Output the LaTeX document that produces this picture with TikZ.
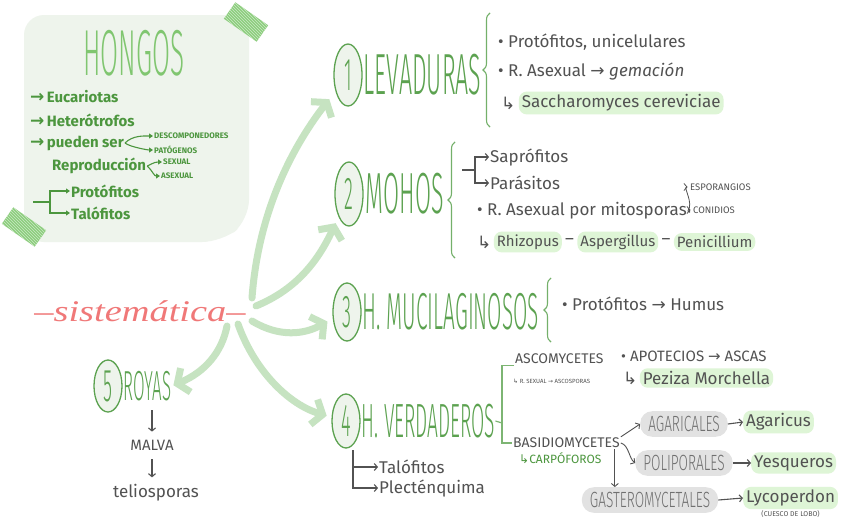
\documentclass[tikz,border=0pt]{standalone}
\usepackage{fontspec}
\setmainfont{Fira Sans}
\newfontfamily\thinfont[FakeStretch=0.4]{Fira Sans Light}
\newfontfamily\pillfont[FakeStretch=0.62]{Fira Sans Light}
\newfontfamily\sistfont[FakeStretch=1.28]{Liberation Serif}
\newfontfamily\flechafont{DejaVu Sans}
\usetikzlibrary{arrows.meta,positioning,shapes.geometric,decorations.pathreplacing,patterns,calc}
\definecolor{boxgreen}{RGB}{238,244,236}
\definecolor{tapegreen}{RGB}{140,205,125}
\definecolor{hongogreen}{RGB}{128,198,112}
\definecolor{titlegreen}{RGB}{92,162,80}
\definecolor{textgreen}{RGB}{76,150,62}
\definecolor{arrowgreen}{RGB}{198,227,193}
\definecolor{inkgray}{RGB}{82,82,82}
\definecolor{hlgreen}{RGB}{222,245,214}
\definecolor{pillgray}{RGB}{226,226,226}
\definecolor{pilltext}{RGB}{112,112,112}
\definecolor{pinkred}{RGB}{240,120,120}
\newcommand\flecha{{\flechafont→}}
\newcommand\gancho{{\flechafont↳}}

\begin{document}
\begin{tikzpicture}[x=1pt,y=-1pt,every node/.style={inner sep=1pt},
  titl/.style={font=\thinfont\fontsize{#1}{#1}\selectfont,text=titlegreen,inner sep=0pt},
  numc/.style={ellipse,draw=titlegreen,line width=1.3pt,fill=boxgreen,minimum width=28,
    minimum height=58,inner sep=0pt,font=\thinfont\fontsize{46}{46}\selectfont,text=titlegreen},
  ink/.style={font=\fontsize{#1}{#1}\selectfont,text=inkgray,anchor=west},
  ink/.default=17,
  gtxt/.style={font=\bfseries\fontsize{#1}{#1}\selectfont,text=textgreen,anchor=west},
  gtxt/.default=15,
  hl/.style={fill=hlgreen,rounded corners=8pt,inner xsep=3pt,inner ysep=3pt},
  pill/.style={fill=pillgray,rounded corners=12pt,inner xsep=8pt,inner ysep=5pt,
    font=\pillfont\fontsize{22}{22}\selectfont,text=pilltext},
  tape/.style={fill=tapegreen,minimum width=40,minimum height=20,inner sep=0pt,
    postaction={pattern=north west lines,pattern color=white!55!tapegreen}},
  rama/.style={draw=arrowgreen,line width=7pt,line cap=round,
    -{Straight Barb[length=9pt,width=26pt]}},
  tip/.style={draw=inkgray,line width=1.1pt,-{Straight Barb[length=3pt,width=7pt]}},
  gtip/.style={draw=textgreen,line width=1.1pt,-{Triangle[length=4pt,width=5pt]}},
  gline/.style={draw=titlegreen!80,line width=1.2pt},
  llave/.style={draw=titlegreen!85,line width=1.1pt,decorate,decoration={brace,amplitude=7pt}}]
\fill[white] (0,0) rectangle (848,530);
\useasboundingbox (0,0) rectangle (848,530);

% caja HONGOS
\fill[boxgreen,rounded corners=20pt] (24,15) -- (249,15) -- (249,220) -- (222,242) -- (24,242) -- cycle;
\node[tape,rotate=-35] (tape1) at (246,22) {};
\node[tape,rotate=-35] (tape2) at (24,227) {};
\node[font=\thinfont\fontsize{65}{65}\selectfont,text=hongogreen,inner sep=0pt] (hongos) at (134,53) {HONGOS};
\foreach \k/\y/\txt in {eu/97/Eucariotas,he/120/Heterótrofos,pu/143/pueden ser}{
  \node[gtxt] (\k) at (29,\y) {{\flechafont\bfseries\fontsize{17}{17}\selectfont→}\,\txt};
}
\node[gtxt] (rep) at (51,166) {Reproducción};
\node[gtxt=8] (desc) at (153,136) {DESCOMPONEDORES};
\node[gtxt=8] (pat) at (153,150) {PATÓGENOS};
\node[gtxt=8] (sex) at (162,162) {SEXUAL};
\node[gtxt=8] (asex) at (160,176) {ASEXUAL};
\draw[gtip] (pu.east) .. controls +(8,-8) and +(-8,0) .. (desc.west);
\draw[gtip] (pu.east) .. controls +(5,4) and +(-5,0) .. (pat.west);
\draw[gtip] (rep.east) .. controls +(8,-4) and +(-6,0) .. (sex.west);
\draw[gtip] (rep.east) .. controls +(6,6) and +(-6,0) .. (asex.west);
\node[gtxt] (pro) at (70,191) {Protófitos};
\node[gtxt] (tal) at (70,213) {Talófitos};
\coordinate (br0) at (33,202);
\draw[gtip] (br0) -- (50,202) coordinate (br1) |- (pro.west);
\draw[gtip] (br1) |- (tal.west);

% sistematica
\node[font=\sistfont\itshape\fontsize{30}{30}\selectfont,text=pinkred] (sist) at (140,311)
  {–sistemática–};
\coordinate (h1) at (252,298);
\coordinate (h2) at (256,306);
\coordinate (h3) at (252,321);
\coordinate (h4) at (238,324);
\coordinate (h5) at (227,326);

% 1 levaduras
\node[numc,minimum height=62] (c1) at (348,75) {1};
\node[titl=58,right=1pt of c1] (lev) {LEVADURAS};
\draw[llave] (490,127) -- (490,13);
\node[ink] (p1) at (497,42) {\textbullet\ Protófitos, unicelulares};
\node[ink] (p2) at (497,72) {\textbullet\ R. Asexual \flecha\ \textit{gemación}};
\node[ink] (g1) at (500,103) {\gancho};
\node[ink,hl,right=2pt of g1] (sacc) {Saccharomyces cereviciae};

% 2 mohos
\node[numc,minimum height=64] (c2) at (349,194) {2};
\node[titl=58,right=2pt of c2] (mohos) {MOHOS};
\draw[llave] (455,258) -- (455,142);
\node[ink] (sap) at (489,157) {Saprófitos};
\node[ink] (par) at (489,183) {Parásitos};
\coordinate (m0) at (462,170);
\draw[tip] (m0) -- (475,170) coordinate (m1) |- (sap.west);
\draw[tip] (m1) |- (par.west);
\node[ink] (mit) at (476,211) {\textbullet\ R. Asexual por mitosporas};
\node[ink=9.5] (espo) at (689,187) {ESPORANGIOS};
\node[ink=9.5] (coni) at (692,210) {CONIDIOS};
\draw[tip,line width=0.8pt,shorten >=1.5pt] (mit.east) .. controls +(6,-8) and +(-6,0) .. (espo.west);
\draw[tip,line width=0.8pt,shorten >=1.5pt] (mit.east) .. controls +(4,3) and +(-4,0) .. (coni.west);
\node[ink] (g2) at (476,242) {\gancho};
\node[ink=15,hl,right=1pt of g2] (rhi) {Rhizopus};
\node[ink,right=2pt of rhi] (d1) {–};
\node[ink=15,hl,right=2pt of d1] (asp) {Aspergillus};
\node[ink,right=2pt of asp] (d2) {–};
\node[ink=15,hl,right=2pt of d2] (pen) {Penicillium};

% 3 mucilaginosos
\node[numc] (c3) at (347,312) {3};
\node[titl=52,right=1pt of c3] (muci) {H. MUCILAGINOSOS};
\draw[llave] (551,342) -- (551,278);
\node[ink] (hum) at (561,304) {\textbullet\ Protófitos \flecha\ Humus};

% 4 verdaderos
\node[numc,minimum height=54] (c4) at (346,421) {4};
\node[titl=48,right=1pt of c4] (verd) {H. VERDADEROS};
\node[ink=14] (asco) at (514,359) {ASCOMYCETES};
\node[ink=14] (basi) at (512,443) {BASIDIOMYCETES};
\coordinate (v0) at (502,423);
\draw[gline] (verd.east) -- (v0);
\draw[gline] (asco.south west) -| (v0) |- (basi.west);
\node[ink=6] (asx) at (512,381) {\gancho\ R. SEXUAL \flecha\ ASCOSPORAS};
\node[ink=15] (apo) at (620,356) {\textbullet\ APOTECIOS \flecha\ ASCAS};
\node[ink] (g3) at (622,378) {\gancho};
\node[ink,hl,right=1pt of g3] (pez) {Peziza Morchella};
\node[gtxt=12,font=\fontsize{12}{12}\selectfont] (carp) at (518,458) {\gancho CARPÓFOROS};
\node[pill] (agar) at (684,424) {AGARICALES};
\node[pill] (poli) at (684,463) {POLIPORALES};
\node[pill] (gast) at (650,500) {GASTEROMYCETALES};
\node[ink,hl] (agc) at (743,422) {Agaricus};
\node[ink,hl] (yes) at (751,463) {Yesqueros};
\node[ink,hl] (lyc) at (743,498) {Lycoperdon};
\node[ink=7,anchor=north] (cues) at (lyc.south) {(CUESCO DE LOBO)};
\draw[tip] (agar.east) -- (agc.west);
\draw[tip] (poli.east) -- (yes.west);
\draw[tip] (gast.east) -- (lyc.west);
\draw[tip,line width=0.9pt] (basi.north east) -- (agar.west);
\draw[tip,line width=0.9pt] (basi.east) .. controls +(8,2) and +(-6,-4) .. (poli.west);
\draw[tip,line width=0.9pt] ([xshift=-6pt]basi.south east) -- ([xshift=-6pt]basi.south east |- gast.north);
\node[ink] (talo) at (378,467) {Talófitos};
\node[ink] (plec) at (378,488) {Plecténquima};
\coordinate (t0) at (353,450);
\draw[tip] (t0) |- (talo.west);
\draw[tip] (t0) |- (plec.west);

% 5 royas
\node[numc,minimum height=52] (c5) at (108,386) {5};
\node[titl=42,right=1pt of c5] (royas) {ROYAS};
\node[ink=15,anchor=center] (malva) at (152,445) {MALVA};
\node[ink,anchor=center] (teli) at (156,493) {teliosporas};
\draw[tip,shorten <=9pt,shorten >=7pt] (royas.south -| malva) -- (malva.north);
\draw[tip,shorten <=8pt,shorten >=6pt] (malva.south) -- (malva.south |- teli.north);

% flechas de sistematica
\draw[rama,shorten >=10pt] (h1) .. controls (258,215) and (290,150) .. (c1);
\draw[rama,shorten >=7pt] (h2) .. controls (290,292) and (315,268) .. (c2);
\draw[rama,shorten >=6pt] (h3) .. controls (280,338) and (305,334) .. (c3.205);
\draw[rama,shorten >=5pt] (h4) .. controls (255,372) and (290,405) .. (c4.165);
\draw[rama,shorten >=2pt] (h5) .. controls (222,352) and (205,372) .. (royas.east);
\end{tikzpicture}
\end{document}
